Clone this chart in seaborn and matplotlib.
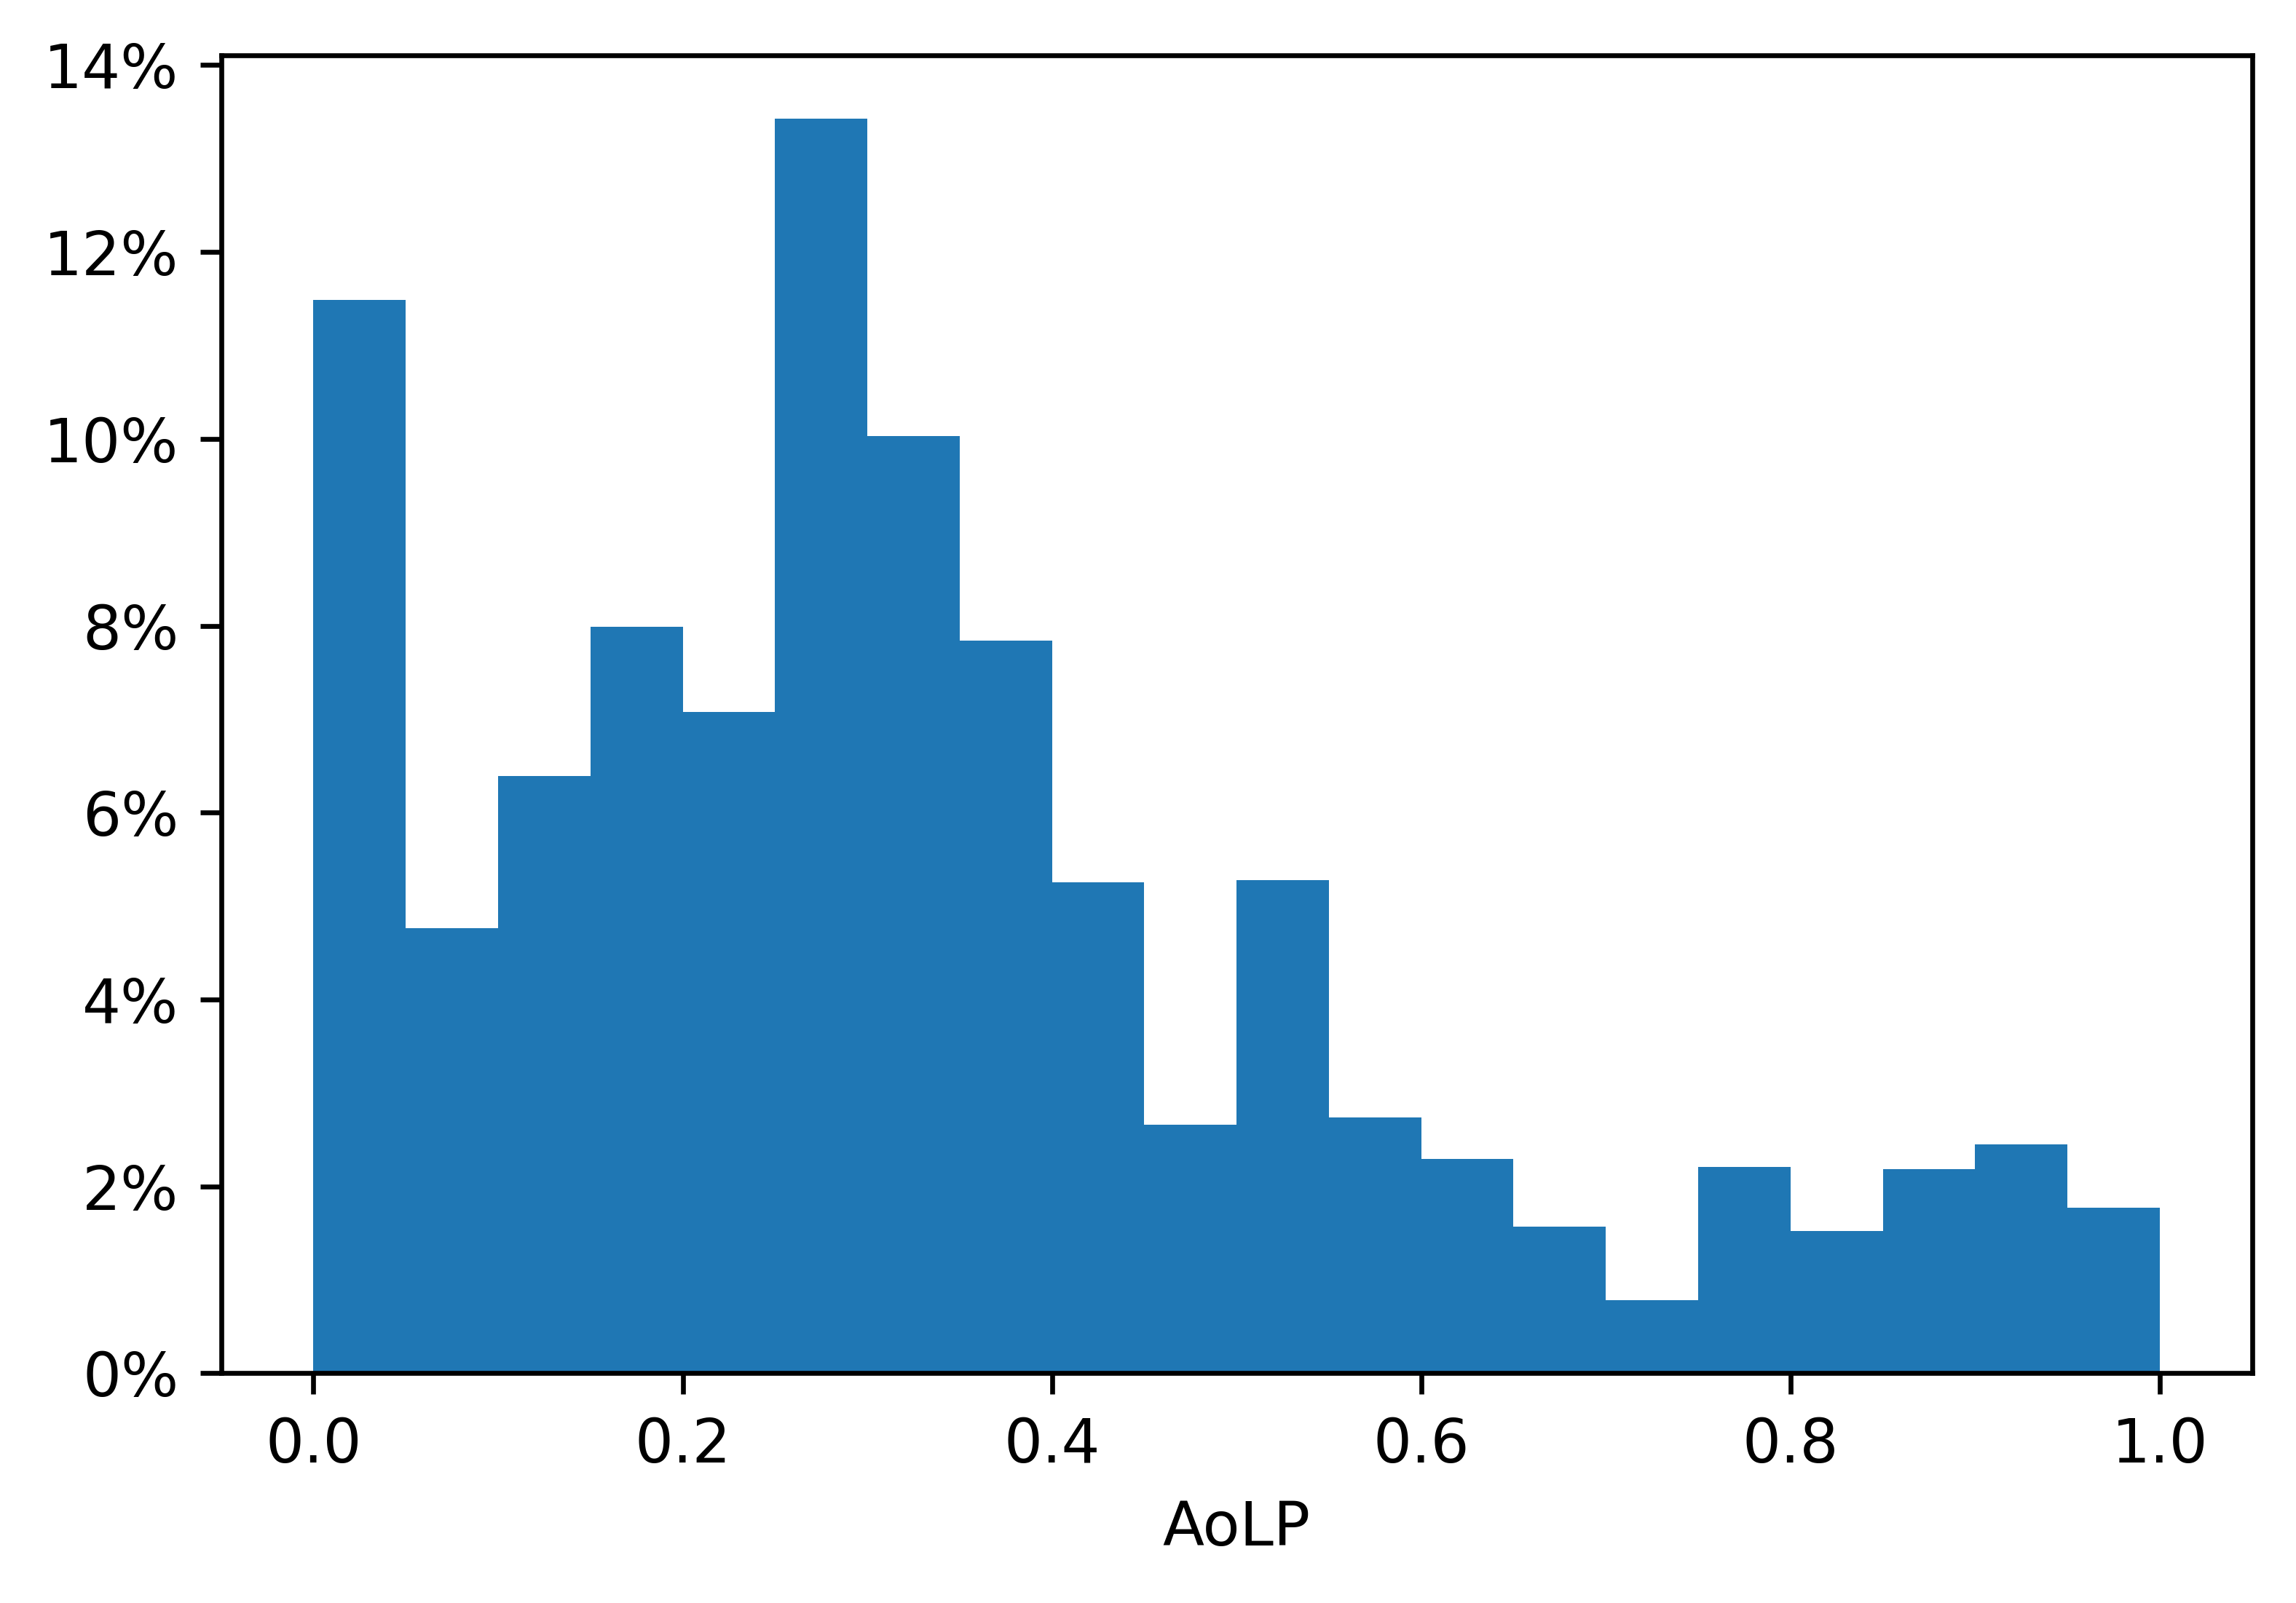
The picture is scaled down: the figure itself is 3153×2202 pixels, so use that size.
import matplotlib
matplotlib.use("Agg")
import matplotlib.pyplot as plt
import numpy as np
import pandas as pd
import seaborn as sns
from matplotlib.ticker import PercentFormatter

# ==========================================================
# Data : share of pixels per AoLP bin (percent)
# ==========================================================

bin_edges = [0.00, 0.05, 0.10, 0.15, 0.20, 0.25, 0.30, 0.35, 0.40, 0.45, 0.50,
             0.55, 0.60, 0.65, 0.70, 0.75, 0.80, 0.85, 0.90, 0.95, 1.00]
bin_share = [11.49, 4.76, 6.39, 7.99, 7.08, 13.43, 10.03, 7.84, 5.25, 2.66,
             5.28, 2.74, 2.29, 1.57, 0.78, 2.21, 1.52, 2.18, 2.45, 1.77]

edges = np.array(bin_edges)
df = pd.DataFrame({
    "AoLP": (edges[:-1] + edges[1:]) / 2,
    "share": bin_share,
})

# ==========================================================
# Plot
# ==========================================================

fig = plt.figure(figsize=(3153 / 600, 2202 / 600), dpi=600)
ax = fig.add_axes([151 / 1568, 1 - 938 / 1095, (1538 - 151) / 1568, (938 - 38) / 1095])

sns.histplot(data=df, x="AoLP", weights="share", bins=bin_edges,
             stat="count", color="#1f77b4", alpha=1, linewidth=0,
             element="bars", ax=ax)

ax.set_yticks(np.arange(0, 15, 2))
ax.yaxis.set_major_formatter(PercentFormatter(100, decimals=0))
ax.set_xlim(-0.05, 1.05)
ax.set_xlabel("AoLP")
ax.set_ylabel("")

fig.savefig("out.png", dpi=600)
plt.close(fig)
